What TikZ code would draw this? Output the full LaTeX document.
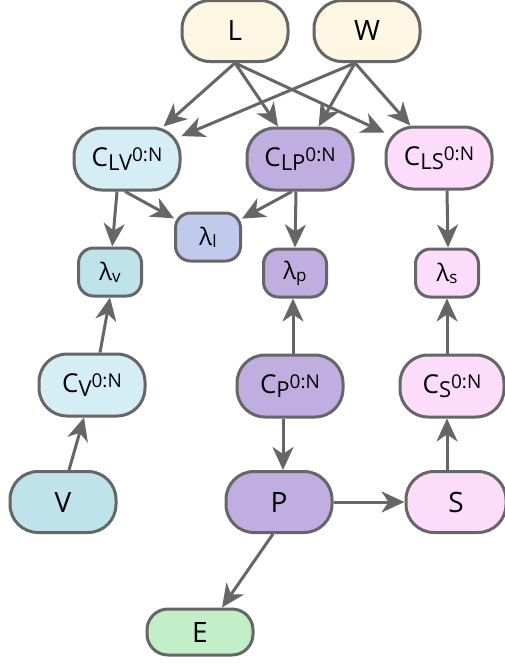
\documentclass[tikz,border=0pt]{standalone}
\usepackage{fontspec}
\setmainfont{Open Sans}
\usetikzlibrary{arrows.meta}
\definecolor{edgegray}{HTML}{666666}
\definecolor{cream}{HTML}{FDF6E3}
\definecolor{lblue}{HTML}{D5EEF6}
\definecolor{tblue}{HTML}{BEE3EA}
\definecolor{lav}{HTML}{C0CAEC}
\definecolor{purp}{HTML}{C1AEE0}
\definecolor{pink}{HTML}{FBDDFB}
\definecolor{lgreen}{HTML}{C2EFC8}
\newcommand\clab[1]{C\raisebox{-3.5pt}{\fontsize{22}{22}\selectfont #1}\raisebox{5.5pt}{\fontsize{19}{19}\selectfont 0:N}}
\newcommand\llab[1]{\textlambda\raisebox{-2pt}{\fontsize{17}{17}\selectfont #1}}
\newcommand\textlambda{λ}
\tikzset{
  box/.style={draw=edgegray, line width=3pt, rounded corners=#1, inner sep=0pt, align=center},
  big/.style={box=28pt, minimum width=106pt, minimum height=61pt, font=\fontsize{28}{28}\selectfont},
  cbox/.style={box=28pt, minimum width=106pt, minimum height=62pt, font=\fontsize{26}{26}\selectfont},
  lbox/.style={box=15pt, minimum width=63pt, minimum height=48pt, font=\fontsize{24}{24}\selectfont},
  arr/.style={draw=edgegray, line width=3pt, -{Stealth[length=23pt,width=21pt,inset=7pt]}}
}
\begin{document}
\begin{tikzpicture}[x=1pt,y=-1pt]
\useasboundingbox (0,0) rectangle (505,664);
\node[big, fill=cream] (L) at (235,31) {L};
\node[big, fill=cream] (W) at (367,31) {W};
\node[cbox, fill=lblue] (CLV) at (127,159) {\clab{LV}};
\node[cbox, fill=purp] (CLP) at (300,159) {\clab{LP}};
\node[cbox, fill=pink] (CLS) at (439,158) {\clab{LS}};
\node[lbox, fill=lav, minimum width=65pt] (ll) at (208,237) {\llab{l}};
\node[lbox, fill=tblue] (lv) at (110,272) {\llab{v}};
\node[lbox, fill=purp] (lp) at (295,273) {\llab{p}};
\node[lbox, fill=pink] (ls) at (447,273) {\llab{s}};
\node[cbox, fill=lblue] (CV) at (92,385) {\clab{V}};
\node[cbox, fill=purp] (CP) at (290,386) {\clab{P}};
\node[cbox, fill=pink, minimum width=104pt] (CS) at (452,386) {\clab{S}};
\node[big, fill=tblue] (V) at (63,502) {V};
\node[big, fill=purp] (P) at (279,502) {P};
\node[big, fill=pink, minimum width=100pt] (S) at (456,502) {S};
\node[big, box=21pt, fill=lgreen, minimum height=46pt, minimum width=106pt] (E) at (200,632) {E};
\draw[arr] (L.south) -- (CLV);
\draw[arr] (L.south) -- (CLP);
\draw[arr] (L.south) -- (CLS);
\draw[arr] ([xshift=-12pt]W.south) -- (CLV);
\draw[arr] ([xshift=-12pt]W.south) -- (CLP);
\draw[arr] ([xshift=-12pt]W.south) -- (CLS);
\draw[arr] ([xshift=-10pt]CLV.south) -- (lv);
\draw[arr] ([xshift=-2pt]CLV.south) -- (ll);
\draw[arr] ([xshift=-8pt]CLP.south) -- (ll);
\draw[arr] ([xshift=-4pt]CLP.south) -- (lp.north);
\draw[arr] ([xshift=8pt]CLS.south) -- ([xshift=1pt]ls.north);
\draw[arr] ([xshift=8pt]CV.north) -- (lv.south);
\draw[arr] ([xshift=6pt]V.north) -- ([xshift=-8pt]CV.south);
\draw[arr] ([xshift=3pt]CP.north) -- ([xshift=-2pt]lp.south);
\draw[arr] ([xshift=-7pt]CP.south) -- ([xshift=4pt]P.north);
\draw[arr] (P.east) -- (S.west);
\draw[arr] ([xshift=-9pt]S.north) -- ([xshift=-5pt]CS.south);
\draw[arr] ([xshift=-5pt]CS.north) -- (ls.south);
\draw[arr] ([xshift=-6pt]P.south) -- ([xshift=22pt]E.north);
\end{tikzpicture}
\end{document}
